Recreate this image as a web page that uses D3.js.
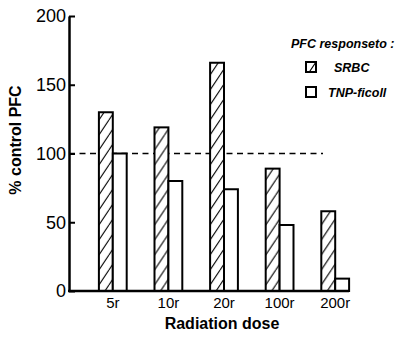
<!DOCTYPE html>
<html>
<head>
<meta charset="utf-8">
<script src="https://cdn.jsdelivr.net/npm/d3@7"></script>
<style>
  body { margin: 0; background: #fff; }
  svg { display: block; font-family: "Liberation Sans", Arial, sans-serif; }
</style>
</head>
<body>
<script>
// data
var doses = ['5r', '10r', '20r', '100r', '200r'];
var seriesNames = ['SRBC', 'TNP-ficoll'];
var srbc = [130, 119, 166, 89, 58];
var tnp = [100, 80, 74, 48, 9];
var yTicks = [0, 50, 100, 150, 200];
var controlLevel = 100;

var width = 399, height = 337;
var axisX = 69;

var svg = d3.select('body').append('svg')
  .attr('width', width)
  .attr('height', height);

// hatch for SRBC
var defs = svg.append('defs');
var pat = defs.append('pattern')
  .attr('id', 'hatch')
  .attr('patternUnits', 'userSpaceOnUse')
  .attr('width', 10)
  .attr('height', 15);
pat.append('rect').attr('width', 10).attr('height', 15).attr('fill', '#fff');
pat.append('path')
  .attr('d', 'M0,15 L10,0 M-5,7.5 L0,0 M10,15 L15,7.5')
  .attr('stroke', '#000')
  .attr('stroke-width', 1.1);

var y = d3.scaleLinear().domain([0, 200]).range([291, 16]);

var x = d3.scaleBand()
  .domain(doses)
  .range([85, 363])
  .paddingInner(0.5)
  .paddingOuter(0.25);

var xSub = d3.scaleBand()
  .domain(seriesNames)
  .range([0, x.bandwidth()]);

var rows = doses.map(function(d, i) {
  return { dose: d, values: [
    { name: 'SRBC', v: srbc[i] },
    { name: 'TNP-ficoll', v: tnp[i] }
  ]};
});

// dashed 100% line
svg.append('line')
  .attr('x1', axisX).attr('x2', 323)
  .attr('y1', y(controlLevel)).attr('y2', y(controlLevel))
  .attr('stroke', '#000')
  .attr('stroke-width', 1.6)
  .attr('stroke-dasharray', '6,4.5');

// bars
var groups = svg.selectAll('g.grp')
  .data(rows)
  .enter().append('g')
  .attr('class', 'grp')
  .attr('transform', function(d) { return 'translate(' + x(d.dose) + ',0)'; });

groups.selectAll('rect')
  .data(function(d) { return d.values; })
  .enter().append('rect')
  .attr('x', function(d) { return xSub(d.name); })
  .attr('y', function(d) { return y(d.v); })
  .attr('width', xSub.bandwidth())
  .attr('height', function(d) { return y(0) - y(d.v); })
  .attr('fill', function(d) { return d.name === 'SRBC' ? 'url(#hatch)' : '#fff'; })
  .attr('stroke', '#000')
  .attr('stroke-width', 2);

// y axis
var yAxis = d3.axisRight(y)
  .tickValues(yTicks)
  .tickSize(6)
  .tickSizeOuter(0);
var gy = svg.append('g')
  .attr('transform', 'translate(' + axisX + ',0)')
  .call(yAxis);
gy.select('.domain').attr('stroke-width', 2.5);
gy.selectAll('.tick line').attr('stroke-width', 2);
gy.selectAll('.tick text')
  .attr('x', -3)
  .attr('text-anchor', 'end')
  .attr('font-size', 18)
  .attr('font-family', '"Liberation Sans", Arial, sans-serif')
  .attr('fill', '#000');

// baseline
svg.append('line')
  .attr('x1', axisX - 1).attr('x2', x(doses[doses.length - 1]) + x.bandwidth())
  .attr('y1', y(0)).attr('y2', y(0))
  .attr('stroke', '#000')
  .attr('stroke-width', 2.5);

// x axis labels
var xAxis = d3.axisBottom(x).tickSize(0).tickPadding(6);
var gx = svg.append('g')
  .attr('transform', 'translate(0,' + y(0) + ')')
  .call(xAxis);
gx.select('.domain').remove();
gx.selectAll('.tick text')
  .attr('font-size', 15)
  .attr('font-family', '"Liberation Sans", Arial, sans-serif')
  .attr('fill', '#000');

// axis titles
svg.append('text')
  .attr('transform', 'translate(21,140) rotate(-90)')
  .attr('text-anchor', 'middle')
  .attr('font-size', 16)
  .attr('font-weight', 'bold')
  .text('% control PFC');

svg.append('text')
  .attr('x', 222).attr('y', 329)
  .attr('text-anchor', 'middle')
  .attr('font-size', 16)
  .attr('font-weight', 'bold')
  .text('Radiation dose');

// legend
var lg = svg.append('g').attr('font-style', 'italic').attr('font-weight', 'bold');
lg.append('text')
  .attr('x', 291).attr('y', 48)
  .attr('font-size', 12.5)
  .text('PFC responseto :');

var legendRows = lg.selectAll('g.item')
  .data(seriesNames)
  .enter().append('g')
  .attr('class', 'item')
  .attr('transform', function(d, i) { return 'translate(306,' + (62 + i * 25) + ')'; });
legendRows.append('rect')
  .attr('width', 10).attr('height', 10)
  .attr('fill', function(d) { return d === 'SRBC' ? 'url(#hatch)' : '#fff'; })
  .attr('stroke', '#000')
  .attr('stroke-width', 2);
legendRows.append('text')
  .attr('x', function(d) { return d === 'SRBC' ? 28 : 22; })
  .attr('y', 10)
  .attr('font-size', 12.5)
  .text(function(d) { return d; });
</script>
</body>
</html>
